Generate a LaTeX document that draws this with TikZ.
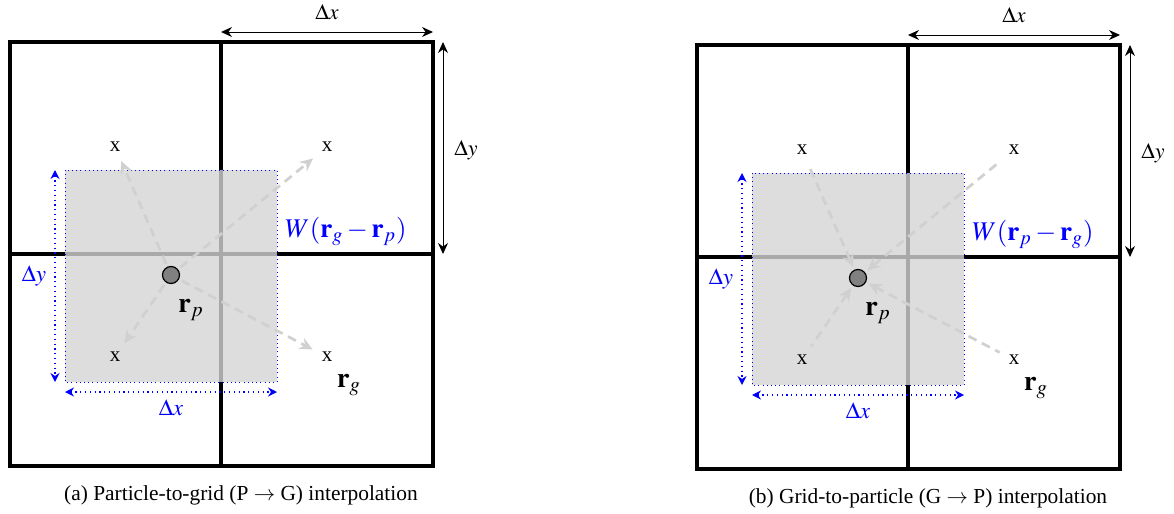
\documentclass[tikz,border=0pt]{standalone}
\usepackage{mathptmx}
\usepackage[no-math]{fontspec}
\setmainfont{Liberation Serif}
\usetikzlibrary{arrows.meta}
\definecolor{shadec}{RGB}{212,212,212}
\definecolor{dashc}{RGB}{208,208,208}
\definecolor{myblue}{RGB}{0,0,255}
\tikzset{
  gridline/.style={line width=1.6pt, line cap=rect},
  shadebox/.style={fill=shadec, fill opacity=0.8, draw=none},
  blueframe/.style={draw=myblue, line width=0.5pt, dash pattern=on 0.5pt off 1.6pt},
  bluearr/.style={draw=myblue, line width=0.6pt, dash pattern=on 0.6pt off 1.8pt,
    {Stealth[length=4.5pt,width=4.5pt,inset=1.5pt]}-{Stealth[length=4.5pt,width=4.5pt,inset=1.5pt]}},
  dimarr/.style={draw=black, line width=0.5pt,
    {Stealth[length=5.5pt,width=5pt,inset=1.8pt]}-{Stealth[length=5.5pt,width=5pt,inset=1.8pt]}},
  gdash/.style={draw=dashc, line width=1.35pt, dash pattern=on 4.5pt off 3pt},
  gtip/.style={-{Stealth[length=6.5pt,width=6pt,inset=2.2pt]}},
  gtipin/.style={{Stealth[length=6.5pt,width=6pt,inset=2.2pt]}-},
  gpt/.style={inner sep=3pt, font=\fontsize{10.5}{12}\selectfont},
  particle/.style={circle, draw=black, line width=0.6pt, fill=gray, minimum size=8.5pt, inner sep=0pt},
  dlbl/.style={inner sep=0pt, font=\fontsize{11}{13}\selectfont},
  rlbl/.style={inner sep=0pt, font=\fontsize{14}{16}\selectfont},
  bluelbl/.style={inner sep=0pt, text=myblue, font=\fontsize{11.5}{13}\selectfont},
  wlbl/.style={inner sep=0pt, text=myblue, font=\fontsize{13.5}{16}\selectfont},
  caplbl/.style={inner sep=0pt, font=\fontsize{10.7}{13}\selectfont},
}
\newcommand{\mypanel}[6]{%
  % #1 prefix, #2 dx, #3 dy, #4 W label, #5 arrow style, #6 caption
  \begin{scope}[shift={(#2,#3)}]
    \coordinate (#1tl) at (10,42);
    \coordinate (#1br) at (433,466);
    \coordinate (#1vt) at (221,42);
    \coordinate (#1vb) at (221,466);
    \coordinate (#1hl) at (10,254);
    \coordinate (#1hr) at (433,254);
    \draw[gridline] (#1tl) rectangle (#1br);
    \draw[gridline] (#1vt) -- (#1vb);
    \draw[gridline] (#1hl) -- (#1hr);
    \coordinate (#1sa) at (65,170);
    \coordinate (#1sb) at (277,382);
    \fill[shadebox] (#1sa) rectangle (#1sb);
    \draw[blueframe] (#1sa) rectangle (#1sb);
    % blue dimension arrows
    \coordinate (#1bvt) at (55,170);
    \coordinate (#1bvb) at (55,382);
    \draw[bluearr] (#1bvt) -- (#1bvb);
    \coordinate (#1bhl) at (65,392);
    \coordinate (#1bhr) at (277,392);
    \draw[bluearr] (#1bhl) -- (#1bhr);
    \node[bluelbl, anchor=base] (#1bdy) at (34,281) {$\Delta y$};
    \node[bluelbl, anchor=base] (#1bdx) at (171,415) {$\Delta x$};
    % black dimension arrows
    \coordinate (#1dxl) at (221,32);
    \coordinate (#1dxr) at (433,32);
    \draw[dimarr] (#1dxl) -- (#1dxr);
    \node[dlbl, anchor=base] (#1dx) at (327,19.5) {$\Delta x$};
    \coordinate (#1dyt) at (443,42);
    \coordinate (#1dyb) at (443,254);
    \draw[dimarr] (#1dyt) -- (#1dyb);
    \node[dlbl, anchor=base] (#1dy) at (466,155) {$\Delta y$};
    % grid points and particle
    \node[gpt] (#1x1) at (115,147) {x};
    \node[gpt] (#1x2) at (327,147) {x};
    \node[gpt] (#1x3) at (115,357) {x};
    \node[gpt] (#1x4) at (327,357) {x};
    \node[particle] (#1p) at (171,275) {};
    \foreach \k in {1,2,3,4}{
      \draw[gdash,#5,shorten >=1.5pt,shorten <=1.5pt] (#1p) -- (#1x\k);
    }
    \node[rlbl] (#1rp) at (191,310) {$\mathbf{r}_p$};
    \node[rlbl] (#1rg) at (349,385) {$\mathbf{r}_g$};
    \node[wlbl] (#1w) at (346,231) {#4};
    \node[caplbl] (#1cap) at (241,495) {#6};
  \end{scope}
}
\begin{document}
\begin{tikzpicture}[x=0.5pt,y=-0.5pt]
  \useasboundingbox (0,0) rectangle (1174,514);
  \mypanel{a}{0}{0}{$W(\mathbf{r}_g-\mathbf{r}_p)$}{gtip}{(a) Particle-to-grid (P $\rightarrow$ G) interpolation}
  \mypanel{b}{687}{3}{$W(\mathbf{r}_p-\mathbf{r}_g)$}{gtipin}{(b) Grid-to-particle (G $\rightarrow$ P) interpolation}
\end{tikzpicture}
\end{document}
